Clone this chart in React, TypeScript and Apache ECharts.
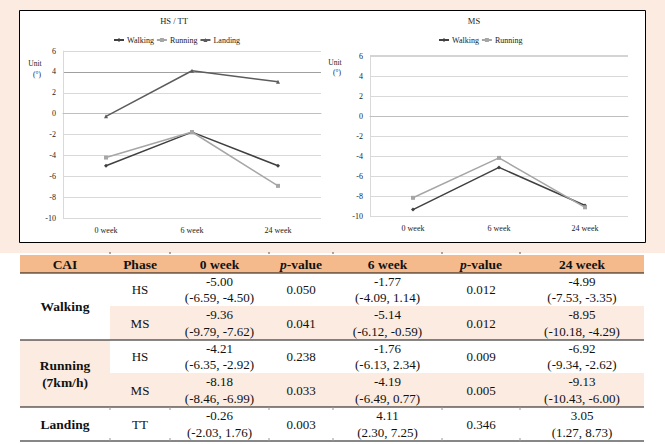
import React, { useEffect, useRef } from "react";
import * as echarts from "echarts";

// ---------- data ----------
const weeks = ["0 week", "6 week", "24 week"];
const hsWalking = [-5.0, -1.77, -4.99];
const hsRunning = [-4.21, -1.76, -6.92];
const ttLanding = [-0.26, 4.11, 3.05];
const msWalking = [-9.36, -5.14, -8.95];
const msRunning = [-8.18, -4.19, -9.13];

const tableHeaders = ["CAI", "Phase", "0 week", "p-value", "6 week", "p-value", "24 week"];
const groupLabels = [["Walking"], ["Running", "(7km/h)"], ["Landing"]];
const phases = ["HS", "MS", "HS", "MS", "TT"];
const week0 = [["-5.00", "(-6.59, -4.50)"], ["-9.36", "(-9.79, -7.62)"], ["-4.21", "(-6.35, -2.92)"], ["-8.18", "(-8.46, -6.99)"], ["-0.26", "(-2.03, 1.76)"]];
const pValue1 = ["0.050", "0.041", "0.238", "0.033", "0.003"];
const week6 = [["-1.77", "(-4.09, 1.14)"], ["-5.14", "(-6.12, -0.59)"], ["-1.76", "(-6.13, 2.34)"], ["-4.19", "(-6.49, 0.77)"], ["4.11", "(2.30, 7.25)"]];
const pValue2 = ["0.012", "0.012", "0.009", "0.005", "0.346"];
const week24 = [["-4.99", "(-7.53, -3.35)"], ["-8.95", "(-10.18, -4.29)"], ["-6.92", "(-9.34, -2.62)"], ["-9.13", "(-10.43, -6.00)"], ["3.05", "(1.27, 8.73)"]];

// ---------- styling / layout ----------
const FONT = "'Liberation Serif', serif";
const PEACH = "#FCEBE0";
const ORANGE = "#F5BA8C";
const C_WALK = "#404040";
const C_RUN = "#a6a6a6";
const C_LAND = "#5c5c5c";
const TXT = "#111";

const colBounds = [20, 110, 170, 269, 333, 442, 520, 644];
const rowBounds = [273, 306, 340, 373, 407, 441];
const headerTop = 255;

function txt(x: number, y: number, text: string, size: number, bold = false, color = TXT, z = 10) {
  return {
    type: "text",
    x,
    y,
    z,
    style: {
      text,
      fill: color,
      fontSize: size,
      fontFamily: FONT,
      fontWeight: bold ? "bold" : "normal",
      align: "center",
      verticalAlign: "middle",
      textAlign: "center",
      textVerticalAlign: "middle",
    },
  };
}

function buildGraphics() {
  const g: any[] = [];
  // backgrounds
  g.push({ type: "rect", z: -100, shape: { x: 0, y: 0, width: 665, height: 253 }, style: { fill: PEACH } });
  g.push({ type: "rect", z: -90, shape: { x: 19.5, y: 10.5, width: 626, height: 232 }, style: { fill: "#fff", stroke: "#000", lineWidth: 1 } });

  // chart titles and unit labels
  g.push(txt(174, 21, "HS / TT", 8.5, false, "#222"));
  g.push(txt(474, 21, "MS", 8.5, false, "#222"));
  g.push(txt(35, 63, "Unit", 7.5, false, "#222"));
  g.push(txt(37, 74, "(°)", 7.5, false, "#222"));
  g.push(txt(335, 62, "Unit", 7.5, false, "#222"));
  g.push(txt(337, 72, "(°)", 7.5, false, "#222"));

  // table backgrounds
  const L = colBounds[0];
  const R = colBounds[colBounds.length - 1];
  g.push({ type: "rect", z: -50, shape: { x: L, y: headerTop, width: R - L, height: rowBounds[0] - headerTop }, style: { fill: ORANGE } });
  g.push({ type: "rect", z: -50, shape: { x: colBounds[1], y: rowBounds[1], width: R - colBounds[1], height: rowBounds[2] - rowBounds[1] }, style: { fill: PEACH } });
  g.push({ type: "rect", z: -50, shape: { x: L, y: rowBounds[2], width: colBounds[1] - L, height: rowBounds[4] - rowBounds[2] }, style: { fill: PEACH } });
  g.push({ type: "rect", z: -50, shape: { x: colBounds[1], y: rowBounds[3], width: R - colBounds[1], height: rowBounds[4] - rowBounds[3] }, style: { fill: PEACH } });

  // table lines
  const hl = (y: number, w: number) =>
    g.push({ type: "line", z: 5, shape: { x1: L, y1: y, x2: R, y2: y }, style: { stroke: "#111", lineWidth: w } });
  hl(rowBounds[0], 1.2);
  hl(rowBounds[2], 1.2);
  hl(rowBounds[4], 1.2);
  hl(rowBounds[5], 1.2);
  // small column ticks
  for (let i = 1; i < colBounds.length - 1; i++) {
    const x = colBounds[i];
    g.push({ type: "line", z: 5, shape: { x1: x, y1: headerTop - 3, x2: x, y2: headerTop - 1 }, style: { stroke: "#555", lineWidth: 1 } });
    g.push({ type: "line", z: 5, shape: { x1: x, y1: rowBounds[5] - 3, x2: x, y2: rowBounds[5] }, style: { stroke: "#999", lineWidth: 1 } });
    g.push({ type: "line", z: 5, shape: { x1: x, y1: rowBounds[4], x2: x, y2: rowBounds[4] + 3 }, style: { stroke: "#999", lineWidth: 1 } });
  }

  // header texts
  const hy = (headerTop + rowBounds[0]) / 2;
  tableHeaders.forEach((h, i) => {
    const cx = (colBounds[i] + colBounds[i + 1]) / 2;
    if (h === "p-value") {
      g.push({
        type: "text",
        x: cx,
        y: hy,
        z: 10,
        style: {
          text: "{i|p}{b|-value}",
          align: "center",
          verticalAlign: "middle",
          textAlign: "center",
          textVerticalAlign: "middle",
          fontSize: 13.5,
          fontFamily: FONT,
          fontWeight: "bold",
          fill: TXT,
          rich: {
            i: { fontStyle: "italic", fontWeight: "bold", fontSize: 13.5, fontFamily: FONT, fill: TXT },
            b: { fontWeight: "bold", fontSize: 13.5, fontFamily: FONT, fill: TXT },
          },
        },
      });
    } else {
      g.push(txt(cx, hy, h, 13.5, true));
    }
  });

  // group labels
  const groupSpans = [[0, 2], [2, 4], [4, 5]];
  groupLabels.forEach((lines, gi) => {
    const [a, b] = groupSpans[gi];
    const cy = (rowBounds[a] + rowBounds[b]) / 2;
    const cx = (colBounds[0] + colBounds[1]) / 2;
    if (lines.length === 1) g.push(txt(cx, cy, lines[0], 13.5, true));
    else {
      g.push(txt(cx, cy - 8.5, lines[0], 13.5, true));
      g.push(txt(cx, cy + 8.5, lines[1], 13.5, true));
    }
  });

  // body
  for (let r = 0; r < phases.length; r++) {
    const cy = (rowBounds[r] + rowBounds[r + 1]) / 2;
    const cxs = colBounds.slice(0, -1).map((c, i) => (c + colBounds[i + 1]) / 2);
    g.push(txt(cxs[1], cy, phases[r], 13));
    const pair = (ci: number, p: string[]) => {
      g.push(txt(cxs[ci], cy - 8.5, p[0], 13));
      g.push(txt(cxs[ci], cy + 8, p[1], 13));
    };
    pair(2, week0[r]);
    g.push(txt(cxs[3], cy, pValue1[r], 13));
    pair(4, week6[r]);
    g.push(txt(cxs[5], cy, pValue2[r], 13));
    pair(6, week24[r]);
  }
  return g;
}

function lineSeries(name: string, data: number[], color: string, symbol: string, idx: number, extra: any = {}) {
  return {
    type: "line",
    name,
    data,
    xAxisIndex: idx,
    yAxisIndex: idx,
    symbol,
    symbolSize: 4,
    showSymbol: true,
    color,
    lineStyle: { color, width: 1.5 },
    itemStyle: { color },
    emphasis: { disabled: true },
    z: 3,
    ...extra,
  };
}

export default function App() {
  const ref = useRef<HTMLDivElement>(null);
  useEffect(() => {
    if (!ref.current) return;
    const chart = echarts.init(ref.current, undefined, { renderer: "svg" });
    const axisLabel = { fontSize: 8, fontFamily: FONT, color: "#222" };
    const xAxis = (i: number) => ({
      type: "category",
      gridIndex: i,
      data: weeks,
      boundaryGap: true,
      axisTick: { show: false },
      axisLine: { lineStyle: { color: "#bfbfbf", width: 1 } },
      axisLabel: { ...axisLabel, margin: 8 },
    });
    const gridColors1 = ["#d9d9d9", "#d9d9d9", "#d9d9d9", "#d9d9d9", "#d9d9d9", "#d9d9d9", "#d9d9d9", "#a0a0a0", "#d9d9d9"];
    const yAxis = (i: number, colors: any) => ({
      type: "value",
      gridIndex: i,
      min: -10,
      max: 6,
      interval: 2,
      axisLine: { show: true, lineStyle: { color: "#d9d9d9" } },
      axisTick: { show: false },
      splitLine: { show: true, lineStyle: { color: colors, width: 1 } },
      axisLabel: { ...axisLabel, margin: 7 },
    });
    const legendBase = {
      top: 31,
      itemWidth: 10,
      itemHeight: 5,
      itemGap: 2,
      textStyle: { fontSize: 8, fontFamily: FONT, color: "#222", padding: [0, 0, 0, -2] },
      selectedMode: false,
    };
    chart.setOption({
      animation: false,
      backgroundColor: "#fff",
      color: [C_WALK, C_RUN, C_LAND],
      grid: [
        { left: 63, right: 344, top: 51, bottom: 226 },
        { left: 370, right: 37, top: 56, bottom: 228 },
      ],
      legend: [
        { ...legendBase, data: ["Walking", "Running", "Landing"], left: 108 },
        { ...legendBase, data: ["Walking", "Running"], left: 433 },
      ],
      xAxis: [xAxis(0), xAxis(1)],
      yAxis: [yAxis(0, gridColors1), yAxis(1, "#d9d9d9")],
      series: [
        lineSeries("Walking", hsWalking, C_WALK, "diamond", 0),
        lineSeries("Running", hsRunning, C_RUN, "rect", 0),
        lineSeries("Landing", ttLanding, C_LAND, "triangle", 0),
        lineSeries("Walking", msWalking, C_WALK, "diamond", 1, {
          markLine: {
            silent: true,
            symbol: "none",
            label: { show: false },
            lineStyle: { color: "#d4d4d4", width: 2, type: "solid" },
            data: [{ yAxis: 6 }],
          },
        }),
        lineSeries("Running", msRunning, C_RUN, "rect", 1),
      ],
      graphic: buildGraphics(),
    });
    return () => chart.dispose();
  }, []);
  return <div ref={ref} style={{ position: "absolute", left: 0, top: 0, width: 665, height: 444 }} />;
}
